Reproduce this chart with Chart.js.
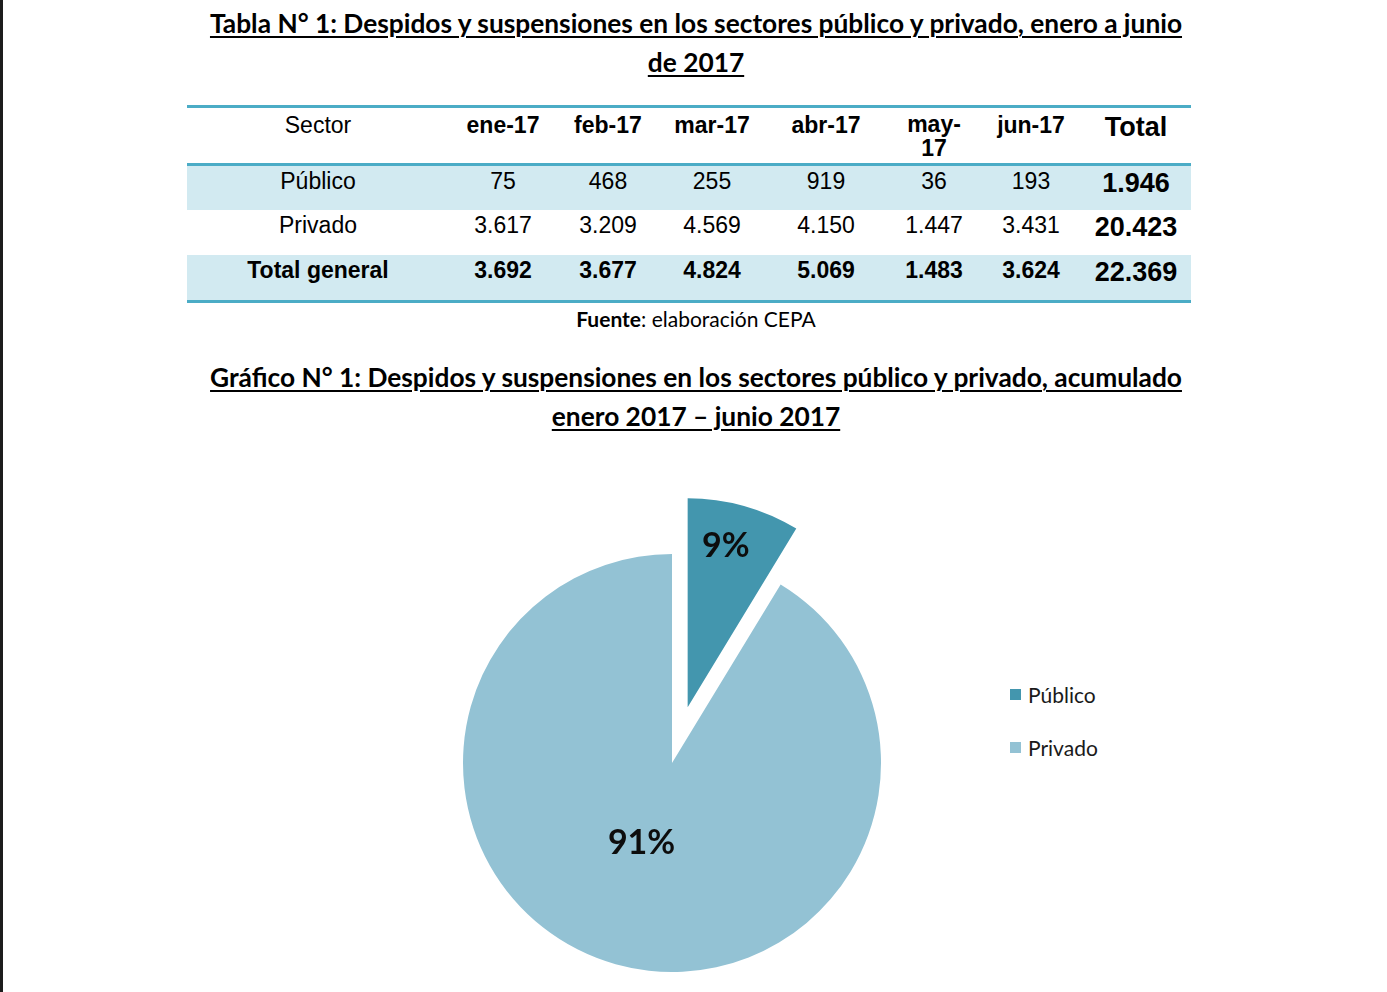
<!DOCTYPE html>
<html lang="es">
<head>
<meta charset="utf-8">
<script src="https://cdn.jsdelivr.net/npm/chart.js@4/dist/chart.umd.min.js"></script>
<style>
  html, body { margin: 0; padding: 0; }
  body { width: 1387px; height: 992px; background: #fff; position: relative; overflow: hidden; font-family: Lato, "Open Sans", sans-serif; color: #000; }
  .edge { position: absolute; left: 0; top: 0; width: 3px; height: 992px; background: #1c1c1c; }
  .title { position: absolute; left: 146px; width: 1100px; text-align: center; font-family: Lato, sans-serif; font-weight: 700; font-size: 26.3px; line-height: 39px; text-decoration: underline; text-decoration-thickness: 2px; text-underline-offset: 3px; }
  #t1 { top: 4px; }
  #t2 { top: 358px; }
  #fuente { position: absolute; left: 396px; width: 600px; top: 306px; text-align: center; font-size: 21px; line-height: 26px; }
  table { position: absolute; left: 187px; top: 105px; width: 1004px; border-collapse: collapse; table-layout: fixed; font-family: "Liberation Sans", Arial, sans-serif; font-size: 23px; }
  table th, table td { padding: 0 2px; text-align: center; vertical-align: top; line-height: 26px; }
  thead tr { height: 58px; border-top: 3px solid #4BACC6; border-bottom: 3px solid #4BACC6; }
  thead th { padding-top: 4px; }
  thead th.sector { font-weight: 400; }
  thead th.may { padding-left: 12px; padding-right: 12px; line-height: 24px; }
  thead th.total { font-size: 27px; padding-top: 6px; }
  tbody tr { height: 45px; }
  tbody tr.last { height: 47px; border-bottom: 3px solid #4BACC6; }
  tbody td { padding-top: 2px; }
  tbody tr.shade { background: #D2EAF1; }
  tbody td.tot { font-weight: 700; font-size: 27px; padding-top: 4px; }
  tbody tr.bold td { font-weight: 700; }
  #chartBox { position: absolute; left: 400px; top: 478px; width: 544px; height: 514px; }
  #legend { position: absolute; left: 1010px; top: 680px; font-family: Lato, sans-serif; font-size: 21px; color: #1a1a1a; }
  #legend .item { display: flex; align-items: center; height: 28px; margin-bottom: 25px; }
  #legend .sw { width: 11px; height: 11px; margin-right: 7px; }
</style>
</head>
<body>
<div class="edge"></div>
<div class="title" id="t1">Tabla N° 1: Despidos y suspensiones en los sectores público y privado, enero a junio<br>de 2017</div>
<table id="tabla"></table>
<div id="fuente"><b>Fuente</b>: elaboración CEPA</div>
<div class="title" id="t2">Gráfico N° 1: Despidos y suspensiones en los sectores público y privado, acumulado<br>enero 2017 – junio 2017</div>
<div id="chartBox"><canvas id="pie"></canvas></div>
<div id="legend"></div>
<script>
// ---- Data ----
const months = ['ene-17', 'feb-17', 'mar-17', 'abr-17', 'may-17', 'jun-17'];
const publico = [75, 468, 255, 919, 36, 193];
const privado = [3617, 3209, 4569, 4150, 1447, 3431];
const sectors = ['Público', 'Privado'];
const sectorColors = ['#4396AE', '#93C2D4'];

// ---- helpers ----
const fmt = n => String(n).replace(/\B(?=(\d{3})+(?!\d))/g, '.');
const sum = a => a.reduce((s, v) => s + v, 0);
const totalGeneral = months.map((_, i) => publico[i] + privado[i]);
const sectorTotals = [sum(publico), sum(privado)];

// ---- Table ----
const colWidths = [262, 108, 102, 106, 122, 94, 100, 110];
let html = '<colgroup>' + colWidths.map(w => `<col style="width:${w}px">`).join('') + '</colgroup>';
html += '<thead><tr><th class="sector">Sector</th>' +
  months.map(m => `<th class="${m.startsWith('may') ? 'may' : ''}">${m.replace('-', '-<wbr>')}</th>`).join('') +
  '<th class="total">Total</th></tr></thead><tbody>';
const rows = [
  { name: 'Público', vals: publico, cls: 'shade' },
  { name: 'Privado', vals: privado, cls: '' },
  { name: 'Total general', vals: totalGeneral, cls: 'shade bold last' }
];
rows.forEach(r => {
  html += `<tr class="${r.cls}"><td>${r.name}</td>` + r.vals.map(v => `<td>${fmt(v)}</td>`).join('') +
    `<td class="tot">${fmt(sum(r.vals))}</td></tr>`;
});
html += '</tbody>';
document.getElementById('tabla').innerHTML = html;

// ---- Legend (HTML) ----
document.getElementById('legend').innerHTML = sectors.map((s, i) =>
  `<div class="item"><span class="sw" style="background:${sectorColors[i]}"></span>${s}</div>`).join('');

// ---- Pie ----
const explodePlugin = {
  id: 'explode',
  afterUpdate(chart, args, opts) {
    chart.getDatasetMeta(0).data.forEach((el, i) => {
      const d = (opts.distances || [])[i] || 0;
      el._explode = d;
      if (!el._wrapped) {
        const orig = el.draw;
        el.draw = function (ctx, area) {
          ctx.save();
          const h = (this.startAngle + this.endAngle) / 2;
          ctx.translate(Math.cos(h) * this._explode, Math.sin(h) * this._explode);
          orig.call(this, ctx, area);
          ctx.restore();
        };
        el._wrapped = true;
      }
    });
  }
};
const labelPlugin = {
  id: 'pctLabels',
  afterDatasetsDraw(chart, args, opts) {
    const meta = chart.getDatasetMeta(0);
    const data = chart.data.datasets[0].data;
    const total = sum(data);
    const ctx = chart.ctx;
    ctx.save();
    ctx.font = opts.font;
    ctx.fillStyle = opts.color;
    ctx.textAlign = 'center';
    ctx.textBaseline = 'middle';
    meta.data.forEach((el, i) => {
      const h = (el.startAngle + el.endAngle) / 2 + (opts.angleShift[i] || 0);
      const r = el.outerRadius * opts.ratios[i] + (el._explode || 0);
      const x = el.x + Math.cos(h) * r;
      const y = el.y + Math.sin(h) * r;
      ctx.fillText(Math.round(data[i] / total * 100) + '%', x, y);
    });
    ctx.restore();
  }
};

new Chart(document.getElementById('pie'), {
  type: 'pie',
  data: {
    labels: sectors,
    datasets: [{
      data: sectorTotals,
      backgroundColor: sectorColors,
      borderWidth: 0,
      clip: false
    }]
  },
  options: {
    responsive: true,
    maintainAspectRatio: false,
    animation: false,
    events: [],
    radius: 209,
    layout: { padding: { top: 60, bottom: 4, left: 0, right: 0 } },
    plugins: {
      legend: { display: false },
      tooltip: { enabled: false },
      explode: { distances: [58, 0] },
      pctLabels: { font: 'bold 34px Lato, sans-serif', color: '#0d0d0d', ratios: [0.79, 0.41], angleShift: [-0.03, 0.09] }
    }
  },
  plugins: [explodePlugin, labelPlugin]
});
</script>
</body>
</html>
